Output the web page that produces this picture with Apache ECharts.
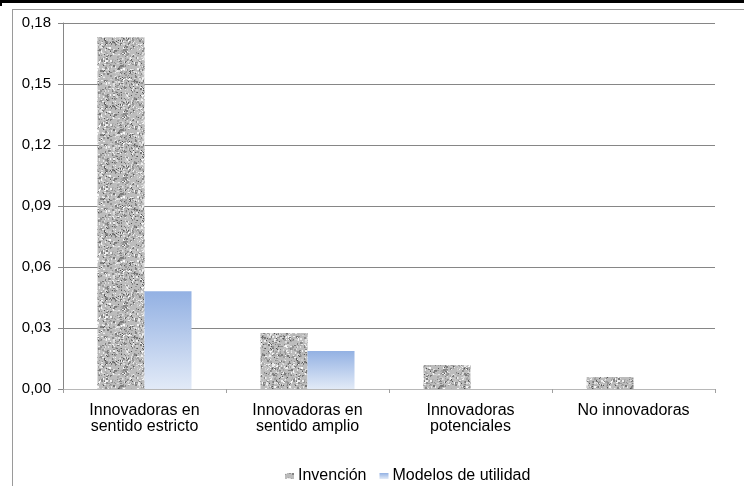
<!DOCTYPE html>
<html><head><meta charset="utf-8">
<script src="https://cdn.jsdelivr.net/npm/echarts@6/dist/echarts.min.js"></script>
<style>html,body{margin:0;padding:0;background:#fff}#c{width:744px;height:486px}</style>
</head><body><div id="c"></div>
<script>
var categories = ['Innovadoras en\nsentido estricto', 'Innovadoras en\nsentido amplio', 'Innovadoras\npotenciales', 'No innovadoras'];
var invencion = [0.173, 0.0275, 0.0118, 0.0059];
var modelos = [0.0481, 0.0187, 0, 0];
var yTicks = [0, 0.03, 0.06, 0.09, 0.12, 0.15, 0.18];

// deterministic grey noise texture
function makeTexture(){
  var c = document.createElement('canvas'); c.width = 64; c.height = 64;
  var ctx = c.getContext('2d');
  var s = 12345;
  function r(){ s = (s*1103515245 + 12345) & 0x7fffffff; return s/0x7fffffff; }
  ctx.fillStyle = '#bcbcbc'; ctx.fillRect(0,0,64,64);
  for (var k=0;k<1300;k++){
    var px = Math.floor(r()*64), py = Math.floor(r()*64);
    var w = 1 + Math.floor(r()*2), h = 1 + Math.floor(r()*2);
    var g = Math.round(115 + r()*135);
    ctx.fillStyle = 'rgb('+g+','+g+','+g+')';
    ctx.fillRect(px,py,w,h);
  }
  for (var m=0;m<100;m++){
    var qx = Math.floor(r()*64), qy = Math.floor(r()*64);
    ctx.fillStyle = 'rgb(85,85,85)';
    ctx.fillRect(qx,qy,1,1);
  }
  return c;
}
var tex = makeTexture();
var font = 'Liberation Sans, Arial, sans-serif';
var chart = echarts.init(document.getElementById('c'));
chart.setOption({
  animation: false,
  textStyle: {fontFamily: font},
  grid: {left: 63, right: 29, top: 23, bottom: 97, containLabel: false},
  xAxis: {
    type: 'category', data: categories,
    axisLine: {lineStyle: {color: '#b8b8b8', width: 1}},
    axisTick: {show: true, length: 4, lineStyle: {color: '#a0a0a0'}},
    axisLabel: {color: '#000', fontSize: 16, lineHeight: 16, margin: 14, interval: 0}
  },
  yAxis: {
    type: 'value', min: 0, max: 0.18, interval: 0.03,
    axisLine: {show: true, lineStyle: {color: '#868686'}},
    axisTick: {show: true, inside: false, length: 5, lineStyle: {color: '#868686'}},
    splitLine: {lineStyle: {color: '#868686', width: 1}},
    axisLabel: {color: '#000', fontSize: 15, margin: 12,
      formatter: function(v){ return v.toFixed(2).replace('.', ','); }}
  },
  legend: {
    left: 280, top: 463, itemWidth: 9, itemHeight: 6, itemGap: 13,
    textStyle: {color: '#000', fontSize: 16, padding: [0,0,0,-1]},
    data: [
      {name: 'Invención', icon: 'rect'},
      {name: 'Modelos de utilidad', icon: 'rect'}
    ]
  },
  series: [
    {name: 'Invención', type: 'bar', data: invencion, barWidth: 47, barGap: '0%',
     itemStyle: {color: {image: tex, repeat: 'repeat'}}},
    {name: 'Modelos de utilidad', type: 'bar', data: modelos, barWidth: 47, barGap: '0%',
     itemStyle: {color: new echarts.graphic.LinearGradient(0,0,0,1,[{offset:0,color:'#93b1e3'},{offset:1,color:'#e2eaf7'}])}}
  ],
  graphic: [
    {type: 'rect', shape: {x: 0, y: 0, width: 744, height: 3}, style: {fill: '#000'}, silent: true},
    {type: 'rect', shape: {x: 0, y: 0, width: 2, height: 6}, style: {fill: '#000'}, silent: true},
    {type: 'line', shape: {x1: 12, y1: 9.5, x2: 744, y2: 9.5}, style: {stroke: '#9a9a9a', lineWidth: 1}, silent: true},
    {type: 'line', shape: {x1: 12.5, y1: 9, x2: 12.5, y2: 486}, style: {stroke: '#9a9a9a', lineWidth: 1}, silent: true}
  ]
});
</script></body></html>
